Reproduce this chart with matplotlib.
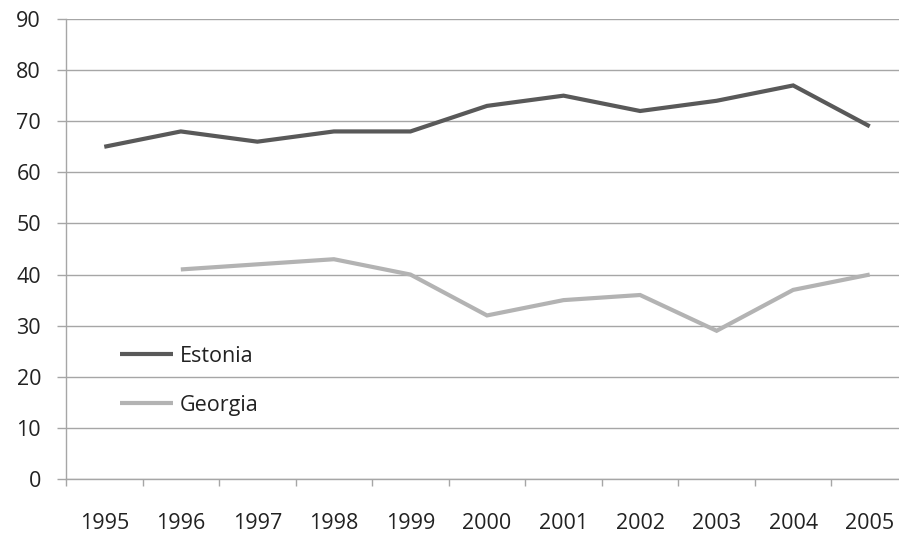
import matplotlib
matplotlib.use("Agg")
import matplotlib.pyplot as plt
import numpy as np

years = ["1995", "1996", "1997", "1998", "1999", "2000", "2001", "2002", "2003", "2004", "2005"]
estonia = [65, 68, 66, 68, 68, 73, 75, 72, 74, 77, 69]
georgia = [np.nan, 41, 42, 43, 40, 32, 35, 36, 29, 37, 40]
yticks = [0, 10, 20, 30, 40, 50, 60, 70, 80, 90]

plt.rcParams['font.family'] = ['Open Sans', 'DejaVu Sans']

W, H = 899, 537
PX = 72 / 100  # points per pixel
fig = plt.figure(figsize=(W / 100, H / 100), dpi=100)
ax = fig.add_axes([66 / W, (H - 479) / H, (908 - 66) / W, (479 - 19) / H])

x = np.arange(len(years))
ax.plot(x, estonia, color="#595959", lw=3.0, label="Estonia", solid_capstyle="butt", solid_joinstyle="miter")
ax.plot(x, georgia, color="#b3b3b3", lw=3.0, label="Georgia", solid_capstyle="butt", solid_joinstyle="miter")

ax.set_xlim(-0.5, len(years) - 0.5)
ax.set_ylim(0, 90)
ax.set_yticks(yticks)
ax.set_yticklabels([str(v) for v in yticks])
ax.yaxis.grid(True, color="#a6a6a6", lw=1.0)
ax.set_axisbelow(True)

ax.set_xticks(x)
ax.set_xticklabels(years)
ax.set_xticks(np.arange(-0.5, len(years), 1.0), minor=True)
ax.tick_params(axis="x", which="major", length=0, pad=34 * PX, labelsize=15.5, colors="#222222")
ax.tick_params(axis="x", which="minor", length=7 * PX, width=1, color="#a6a6a6", direction="out")
ax.tick_params(axis="y", length=9 * PX, width=1, color="#a6a6a6", pad=16 * PX, labelsize=15.5, labelcolor="#222222")

for s in ["top", "right"]:
    ax.spines[s].set_visible(False)
for s in ["left", "bottom"]:
    ax.spines[s].set_color("#a6a6a6")
    ax.spines[s].set_linewidth(1.0)

leg = ax.legend(loc="upper left", bbox_to_anchor=((111 - 66) / (908 - 66), (479 - 337) / (479 - 19)),
                frameon=False, fontsize=15.5, handlelength=2.5, handletextpad=0.3, labelspacing=1.32,
                borderaxespad=0)
for t in leg.get_texts():
    t.set_color("#222222")

fig.savefig("out.png", dpi=100)
